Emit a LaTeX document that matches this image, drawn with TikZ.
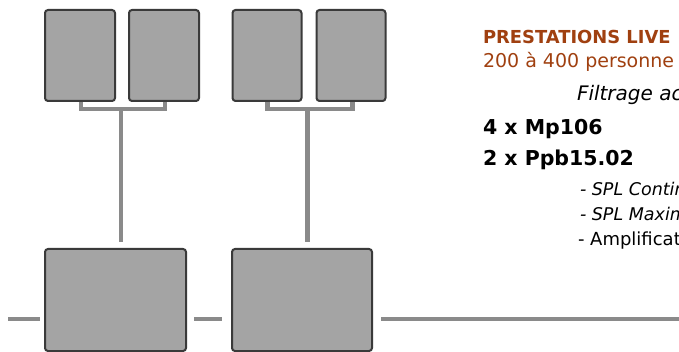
\documentclass[tikz,border=0pt]{standalone}
\usepackage{fontspec}
\setmainfont{DejaVu Sans}
\begin{document}
\begin{tikzpicture}[x=1pt,y=-1pt,
  box/.style={draw=boxline,fill=boxfill,line width=2pt,rounded corners=3pt,inner sep=0pt},
  wire/.style={draw=wiregray,line width=4.6pt},
  brk/.style={draw=wiregray,line width=4.2pt,line join=miter},
  txt/.style={anchor=base west,inner sep=0pt,outer sep=0pt},
]
\definecolor{boxfill}{RGB}{164,164,164}
\definecolor{boxline}{RGB}{58,58,58}
\definecolor{wiregray}{RGB}{138,138,138}
\definecolor{brown}{RGB}{160,64,16}
\useasboundingbox (0,0) rectangle (679,352);
\fill[white] (0,0) rectangle (679,352);
\clip (0,0) rectangle (679,352);

% top speaker boxes
\node[box,minimum width=70pt,minimum height=91pt] (t1) at (80,55.5) {};
\node[box,minimum width=70pt,minimum height=91pt] (t2) at (164,55.5) {};
\node[box,minimum width=69pt,minimum height=91pt] (t3) at (267,55.5) {};
\node[box,minimum width=69pt,minimum height=91pt] (t4) at (351,55.5) {};
% bottom boxes
\node[box,minimum width=141pt,minimum height=102pt] (b1) at (115.5,300) {};
\node[box,minimum width=140pt,minimum height=102pt] (b2) at (302,300) {};

% brackets
\coordinate (j1) at (121,108.7);
\coordinate (j2) at (307.5,108.7);
\draw[brk] ([xshift=1pt]t1.south) -- ([xshift=1pt]t1.south |- j1) -| ([xshift=1pt]t2.south);
\draw[brk] ([xshift=0.5pt]t3.south) -- ([xshift=0.5pt]t3.south |- j2) -| ([xshift=1.5pt]t4.south);
% stems
\coordinate (e1) at (121,242);
\coordinate (e2) at (307.5,242);
\draw[wire] (j1) -- (e1);
\draw[wire] (j2) -- (e2);

% horizontal lines
\coordinate (h1a) at (8,319);
\coordinate (h1b) at (40,319);
\coordinate (h2a) at (194,319);
\coordinate (h2b) at (222,319);
\coordinate (h3a) at (381,319);
\coordinate (h3b) at (679,319);
\draw[wire] (h1a) -- (h1b);
\draw[wire] (h2a) -- (h2b);
\draw[wire] (h3a) -- (h3b);

% texts
\node[txt,text=brown,font=\fontsize{17.9}{20}\selectfont\bfseries] (p1) at (483,44) {PRESTATIONS LIVE};
\node[txt,text=brown,font=\fontsize{19}{22}\selectfont] (p2) at (483,68) {200 à 400 personne};
\node[txt,font=\fontsize{20}{22}\selectfont\itshape] (p3) at (577,101) {Filtrage ac};
\node[txt,font=\fontsize{20.5}{22}\selectfont\bfseries] (p4) at (483,135) {4 x Mp106};
\node[txt,font=\fontsize{20.5}{22}\selectfont\bfseries] (p5) at (483,166) {2 x Ppb15.02};
\node[txt,font=\fontsize{17.5}{20}\selectfont\itshape] (p6) at (580,196) {- SPL Contin};
\node[txt,font=\fontsize{17.5}{20}\selectfont\itshape] (p7) at (580,221) {- SPL Maxim};
\node[txt,font=\fontsize{18}{20}\selectfont] (p8) at (578,246) {- Amplificat};
\end{tikzpicture}
\end{document}
